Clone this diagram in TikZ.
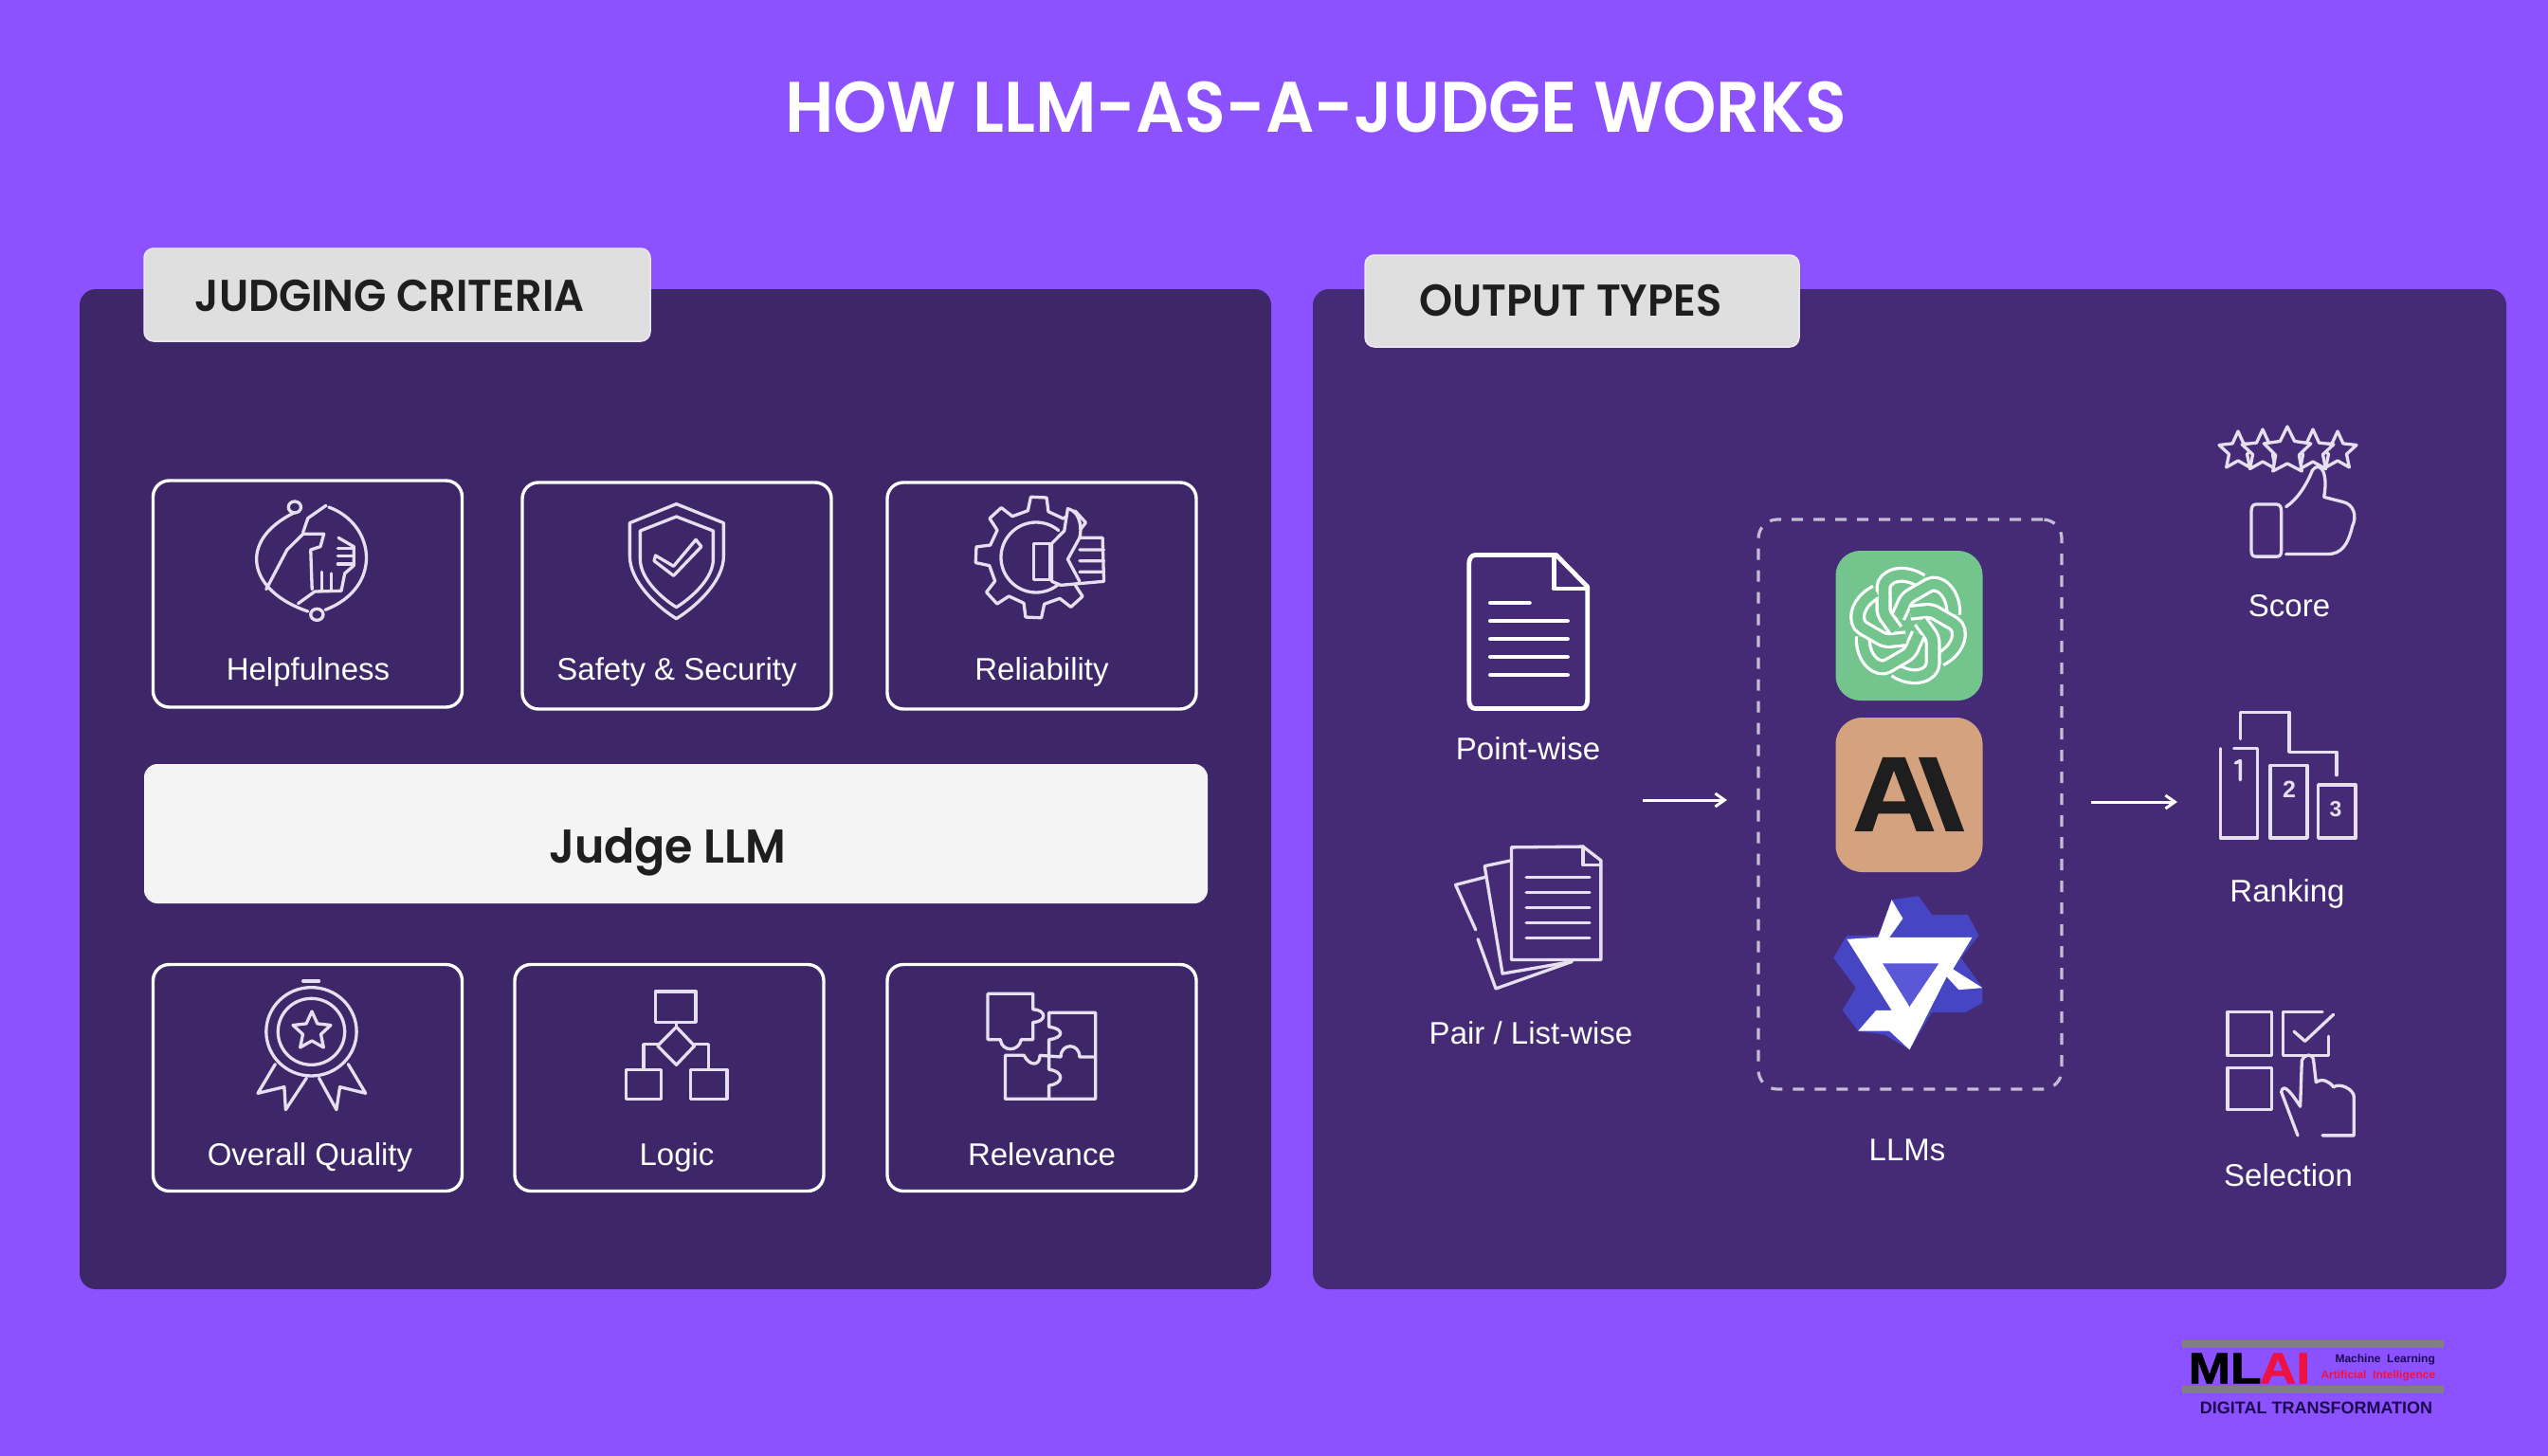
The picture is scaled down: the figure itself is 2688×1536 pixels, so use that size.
\documentclass[tikz,border=0pt]{standalone}
\usepackage{fontspec}
\setmainfont{Liberation Sans}
\newfontfamily\dm{Poppins SemiBold}[FakeStretch=0.95]
\newfontfamily\logof{Liberation Sans Bold}[FakeStretch=1.16,FakeBold=1.5]
\usetikzlibrary{arrows.meta,calc}
\definecolor{bgc}{HTML}{8C52FF}
\definecolor{panL}{HTML}{3E2769}
\definecolor{panR}{HTML}{452B75}
\definecolor{tabc}{HTML}{DFDFDF}
\definecolor{tabe}{HTML}{ECE6F4}
\definecolor{barc}{HTML}{F4F4F4}
\definecolor{ink}{HTML}{1E1E1E}
\definecolor{ico}{HTML}{E6DFF0}
\definecolor{dashc}{HTML}{C4BCD4}
\definecolor{gptc}{HTML}{74C48D}
\definecolor{clc}{HTML}{D4A27F}
\definecolor{qb}{HTML}{4646C4}
\definecolor{qi}{HTML}{5A58D8}
\definecolor{lred}{HTML}{EE1144}
\definecolor{lnavy}{HTML}{1A0A50}
\newcommand{\fs}[1]{\fontsize{#1}{#1}\selectfont}
\newcommand{\mystar}[5]{\begin{scope}[shift={(#2,#3)}]\draw[iconline,fill=#1] (-90:#4) \foreach \i in {1,...,9}{ -- ({-90+36*\i}:{(mod(\i,2)==0?#4:#5)})} -- cycle;\end{scope}}
\newcommand{\knotpath}{(-13,5) -- (-26,-13) -- (-26,-35) .. controls (-26,-52) and (-6,-60) .. (14,-47)}
\tikzset{
 x=1pt,y=-1pt,
 panel/.style={rectangle,rounded corners=17pt,inner sep=0pt,draw=none},
 tabbox/.style={rectangle,rounded corners=10pt,fill=tabc,draw=tabe,line width=1.5pt,inner sep=0pt},
 cbox/.style={rectangle,rounded corners=17pt,draw=white,line width=3.4pt,inner sep=0pt,minimum width=326pt,minimum height=239pt},
 lab/.style={anchor=base,text=white,inner sep=0pt,font=\fs{33}},
 head/.style={anchor=base,text=ink,inner sep=0pt},
 iconline/.style={draw=ico,line width=3.3pt,line join=round,line cap=round},
 thick icon/.style={draw=white,line width=4.8pt,line join=round,line cap=round},
 conn/.style={draw=white,line width=3pt,-{Straight Barb[length=10pt,width=14pt,line width=3pt]}},
 z1/.style={shift={(140,480)},x=0.7334pt,y=-0.3333pt},
 z2/.style={shift={(140,1000)},x=0.7334pt,y=-0.3333pt},
 z3/.style={shift={(1460,540)},x=0.4719pt,y=-0.3954pt},
 z4/.style={shift={(2280,430)},x=0.3333pt,y=-0.5102pt},
 z5/.style={shift={(2280,1400)},x=0.3333pt,y=-0.3333pt},
}
\begin{document}
\begin{tikzpicture}
\useasboundingbox (0,0) rectangle (2688,1536);
\fill[bgc] (0,0) rectangle (2688,1536);
\node[anchor=base,text=white,inner sep=0pt,font=\dm\fs{75.5}] (title) at (1388,140) {HOW LLM-AS-A-JUDGE WORKS};
% panels
\node[panel,fill=panL,minimum width=1257pt,minimum height=1055pt] (pl) at (712.5,832.5) {};
\node[panel,fill=panR,minimum width=1259pt,minimum height=1055pt] (pr) at (2014.5,832.5) {};
\node[tabbox,minimum width=534pt,minimum height=98pt] (tl) at (419,311) {};
\node[tabbox,minimum width=458pt,minimum height=97pt] (tr) at (1669,317.5) {};
\node[head,font=\dm\fs{47}] (tlt) at (411,328) {JUDGING CRITERIA};
\node[head,font=\dm\fs{47}] (trt) at (1657,333) {OUTPUT TYPES};
\node[rectangle,rounded corners=14pt,fill=barc,minimum width=1122pt,minimum height=147pt,inner sep=0pt] (judge) at (713,879.5) {};
\node[head,font=\dm\fs{50}] (judget) at (704,910) {Judge LLM};
% criterion boxes
\node[cbox] (b1) at (324.5,626.5) {};
\node[cbox] (b2) at (714,628.5) {};
\node[cbox] (b3) at (1099,628.5) {};
\node[cbox] (b4) at (324.5,1137) {};
\node[cbox] (b5) at (706,1137) {};
\node[cbox] (b6) at (1099,1137) {};
\node[lab] (l1) at (325,717) {Helpfulness};
\node[lab] (l2) at (714,717) {Safety \& Security};
\node[lab] (l3) at (1099,717) {Reliability};
\node[lab] (l4) at (327,1229) {Overall Quality};
\node[lab] (l5) at (714,1229) {Logic};
\node[lab] (l6) at (1099,1229) {Relevance};
% Helpfulness icon
\begin{scope}[z1]
 \draw[iconline] (233,182) .. controls (150,270) and (165,430) .. (252,495);
 \draw[iconline] (282,165) .. controls (350,220) and (360,420) .. (277,490);
 \draw[iconline,fill=panL] (233,165) ellipse (9 and 18);
 \draw[iconline,fill=panL] (265,505) ellipse (9 and 18);
 \draw[iconline] (192,425) -- (222,300) -- (245,250) -- (275,250) -- (270,290) -- (256,300) -- (258,425);
 \draw[iconline] (245,245) -- (252,200) -- (278,160);
 \draw[iconline] (238,470) -- (262,432) -- (300,430) -- (305,375) -- (318,350) -- (318,290) -- (296,262);
 \draw[iconline] (272,432) -- (272,370);
 \draw[iconline] (286,430) -- (286,375);
 \draw[iconline] (295,295) -- (318,295) (295,320) -- (318,320) (295,345) -- (318,345);
 % Safety icon
 \draw[iconline] (782,155) -- (850,215) -- (850,320) .. controls (850,400) and (810,480) .. (782,518) .. controls (754,480) and (715,400) .. (715,320) -- (715,215) -- cycle;
 \draw[iconline] (782,195) -- (835,240) -- (835,330) .. controls (835,390) and (805,450) .. (782,482) .. controls (759,450) and (730,390) .. (730,330) -- (730,240) -- cycle;
 \draw[iconline] (752,318) -- (778,352) -- (810,268) -- (818,290) -- (778,382) -- (750,335) -- cycle;
\end{scope}
% Reliability icon
\begin{scope}[shift={(1093,588)}]
 \draw[iconline] (-20:52) \foreach \a in {-30,-75,-120,-165,150,105,60}{ -- (\a:50) -- ({\a-5}:64) -- ({\a-20}:64) -- ({\a-25}:50)};
 \draw[iconline] (-50:37) arc[start angle=-50,end angle=-310,radius=37];
\end{scope}
\begin{scope}[z1]
 \draw[iconline,fill=panL] (1345,170) .. controls (1365,180) and (1365,240) .. (1362,262) -- (1395,262) -- (1397,400) -- (1335,412) -- (1322,400) -- (1322,280) -- (1340,240) -- cycle;
 \draw[iconline] (1296,280) rectangle (1320,395);
 \draw[iconline] (1362,300) -- (1397,300) (1362,335) -- (1397,335) (1362,370) -- (1397,370) (1362,262) -- (1345,330) -- (1362,400);
\end{scope}
% Overall quality icon
\begin{scope}[z2]
 \draw[iconline] (257,265) ellipse (65 and 140);
 \draw[iconline] (257,265) ellipse (48 and 105);
 \draw[iconline] (205,368) -- (180,460) -- (218,440) -- (220,512) -- (250,412);
 \draw[iconline] (310,368) -- (335,460) -- (298,440) -- (293,512) -- (268,412);
 \draw[iconline] (245,105) -- (268,105);
\end{scope}
\mystar{panL}{329}{1088}{21}{10}
% Logic icon
\begin{scope}[z2]
 \draw[iconline] (752,138) rectangle (810,235);
 \draw[iconline] (782,235) -- (782,250);
 \draw[iconline] (782,250) -- (808,310) -- (782,370) -- (755,310) -- cycle;
 \draw[iconline] (755,305) -- (735,305) -- (735,385);
 \draw[iconline] (808,305) -- (828,305) -- (828,385);
 \draw[iconline] (710,385) rectangle (760,478);
 \draw[iconline] (802,385) rectangle (855,478);
 % Relevance icon
 \draw[iconline] (1230,145) -- (1295,145) -- (1295,195) .. controls (1315,195) and (1315,235) .. (1295,235) -- (1295,290) -- (1278,290) .. controls (1275,330) and (1250,330) .. (1248,290) -- (1230,290) -- cycle;
 \draw[iconline] (1318,205) -- (1385,205) -- (1385,478) -- (1255,478) -- (1255,340) -- (1282,340) .. controls (1290,375) and (1305,375) .. (1305,340) -- (1335,345) .. controls (1335,300) and (1362,300) .. (1362,345) -- (1385,345);
 \draw[iconline] (1318,205) -- (1318,250) .. controls (1340,255) and (1340,285) .. (1318,290) -- (1318,385) .. controls (1340,390) and (1340,430) .. (1318,435) -- (1318,478);
\end{scope}
% Output panel, left documents
\begin{scope}[z3]
 \draw[thick icon] (380,115) -- (205,115) .. controls (195,115) and (190,125) .. (190,140) -- (190,500) .. controls (190,515) and (195,525) .. (205,525) -- (440,525) .. controls (450,525) and (455,515) .. (455,500) -- (455,200) -- (385,115);
 \draw[thick icon] (380,115) -- (380,205) -- (455,205);
 \draw[thick icon] (238,243) -- (325,243);
 \foreach \yy in {291,339,387,435} \draw[thick icon] (238,\yy) -- (410,\yy);
 \draw[iconline] (445,893) -- (285,895) -- (285,1195) -- (485,1195) -- (485,930) -- cycle;
 \draw[iconline] (445,893) -- (445,942) -- (485,942);
 \draw[iconline] (285,930) -- (225,945) -- (265,1232) -- (420,1200);
 \draw[iconline] (225,975) -- (160,995) -- (205,1115);
 \draw[iconline] (210,1140) -- (250,1272) -- (420,1200);
 \foreach \yy in {975,1016,1056,1097,1137} \draw[iconline] (318,\yy) -- (460,\yy);
\end{scope}
\node[lab] (pw) at (1612,801) {Point-wise};
\node[lab] (plw) at (1615,1101) {Pair / List-wise};
\node[lab] (llm) at (2012,1224) {LLMs};
\node[lab] (sc) at (2415,650) {Score};
\node[lab] (ra) at (2413,951) {Ranking};
\node[lab] (se) at (2414,1251) {Selection};
% dashed group
\node[rectangle,draw=dashc,line width=3.2pt,dash pattern=on 12pt off 11pt,rounded corners=20pt,minimum width=320pt,minimum height=601pt,inner sep=0pt] (group) at (2015,848.5) {};
% ChatGPT logo
\node[rectangle,fill=gptc,rounded corners=26pt,minimum width=155pt,minimum height=158pt,inner sep=0pt] (gpt) at (2014,660) {};
\begin{scope}[shift={(2013,660)}]
 \foreach \a in {0,-60,-120,-180,-240,-300}{
  \draw[white,line width=17pt,rounded corners=5pt,rotate=\a] \knotpath;
  \draw[gptc,line width=10.5pt,rounded corners=5pt,rotate=\a] \knotpath;
 }
 \draw[white,line width=17pt,rounded corners=5pt] (-13,5) -- (-26,-13) -- (-26,-30);
 \draw[gptc,line width=10.5pt,rounded corners=5pt] (-13,5) -- (-26,-13) -- (-26,-31);
\end{scope}
% Claude logo
\node[rectangle,fill=clc,rounded corners=28pt,minimum width=155pt,minimum height=163pt,inner sep=0pt] (cl) at (2014,838.5) {};
\begin{scope}[z3]
 \fill[ink,even odd rule] (1052,852) -- (1115,655) -- (1165,655) -- (1230,852) -- (1190,852) -- (1176,805) -- (1105,805) -- (1092,852) -- cycle (1115,772) -- (1166,772) -- (1140,690) -- cycle;
 \fill[ink] (1195,655) -- (1235,655) -- (1297,852) -- (1256,852) -- cycle;
 % Qwen logo
 \fill[qb] (1135,1035) -- (1195,1025) -- (1225,1075) -- (1305,1075) -- (1330,1130) -- (1290,1190) -- (1338,1270) -- (1338,1310) -- (1300,1335) -- (1225,1335) -- (1175,1435) -- (1120,1395) -- (1060,1385) -- (1025,1330) -- (1055,1270) -- (1005,1190) -- (1035,1130) -- (1105,1130) -- cycle;
 \fill[white] (1135,1035) -- (1160,1085) -- (1130,1135) -- (1315,1135) -- (1272,1220) -- (1338,1270) -- (1285,1275) -- (1258,1240) -- (1175,1435) -- (1130,1385) -- (1060,1385) -- (1100,1330) -- (1135,1330) -- (1035,1140) -- (1105,1135) -- cycle;
 \fill[qi] (1115,1205) -- (1240,1205) -- (1175,1320) -- cycle;
\end{scope}
% connectors
\coordinate (c1) at (1733,844);
\coordinate (c2) at (1822,844);
\coordinate (c3) at (2206,846);
\coordinate (c4) at (2297,846);
\draw[conn] (c1) -- (c2);
\draw[conn] (c3) -- (c4);
% Score icon
\mystar{panR}{2361}{476}{21}{10}
\mystar{panR}{2466}{476}{21}{10}
\mystar{panR}{2387}{476}{23}{11}
\mystar{panR}{2440}{476}{23}{11}
\mystar{panR}{2413}{476}{26}{13}
\begin{scope}[z4]
 \draw[iconline] (285,215) .. controls (285,205) and (290,200) .. (300,200) -- (365,200) .. controls (375,200) and (380,205) .. (380,215) -- (380,295) .. controls (380,305) and (375,308) .. (365,308) -- (300,308) .. controls (290,308) and (285,305) .. (285,295) -- cycle;
 \draw[iconline,fill=panR] (395,205) .. controls (430,190) and (460,160) .. (478,130) .. controls (500,110) and (530,130) .. (515,185) -- (575,195) .. controls (610,200) and (620,225) .. (605,245) .. controls (590,285) and (570,303) .. (525,303) -- (395,303);
 % Ranking icon
 \draw[iconline] (187,705) -- (187,890) -- (305,890) -- (305,705) -- (230,705);
 \draw[iconline] (345,740) rectangle (462,890);
 \draw[iconline] (497,780) rectangle (615,890);
 \draw[iconline] (250,685) -- (250,630) -- (405,630) -- (405,712) -- (555,712) -- (555,760);
 \draw[iconline] (235,735) -- (250,730) -- (250,770);
 \node[text=ico,inner sep=0pt,font=\fs{25}\bfseries] (n2) at (405,790) {2};
 \node[text=ico,inner sep=0pt,font=\fs{23}\bfseries] (n3) at (552,830) {3};
 % Selection icon
 \draw[iconline] (210,1250) rectangle (350,1340);
 \draw[iconline] (210,1365) rectangle (350,1452);
 \draw[iconline] (530,1300) -- (530,1340) -- (385,1340) -- (385,1250) -- (510,1250);
 \draw[iconline] (420,1290) -- (455,1310) -- (545,1255);
 \draw[iconline,fill=panR] (432,1505) -- (380,1415) .. controls (385,1400) and (400,1405) .. (440,1445) -- (445,1350) .. controls (455,1335) and (480,1335) .. (482,1350) -- (490,1395) .. controls (510,1385) and (535,1395) .. (545,1405) .. controls (565,1395) and (610,1410) .. (610,1425) -- (610,1505) -- (510,1505);
\end{scope}
% MLAI logo
\begin{scope}[z5]
 \fill[gray] (65,42) rectangle (895,65);
 \fill[gray] (65,187) rectangle (895,210);
 \node[anchor=base west,inner sep=0pt,font=\logof\fs{46},text=black] (ml) at (85,178) {ML};
 \node[anchor=base east,inner sep=0pt,font=\logof\fs{46},text=lred] (ai) at (472,178) {AI};
 \node[anchor=base west,inner sep=0pt,font=\fs{12}\bfseries,text=lnavy] (lm) at (550,111) {Machine\ \ Learning};
 \node[anchor=base west,inner sep=0pt,font=\fs{12}\bfseries,text=lred] (lai) at (505,162) {Artificial\ \ Intelligence};
 \node[anchor=base west,inner sep=0pt,font=\fs{18}\bfseries,text=lnavy] (dt) at (122,275) {DIGITAL TRANSFORMATION};
\end{scope}
\end{tikzpicture}
\end{document}
